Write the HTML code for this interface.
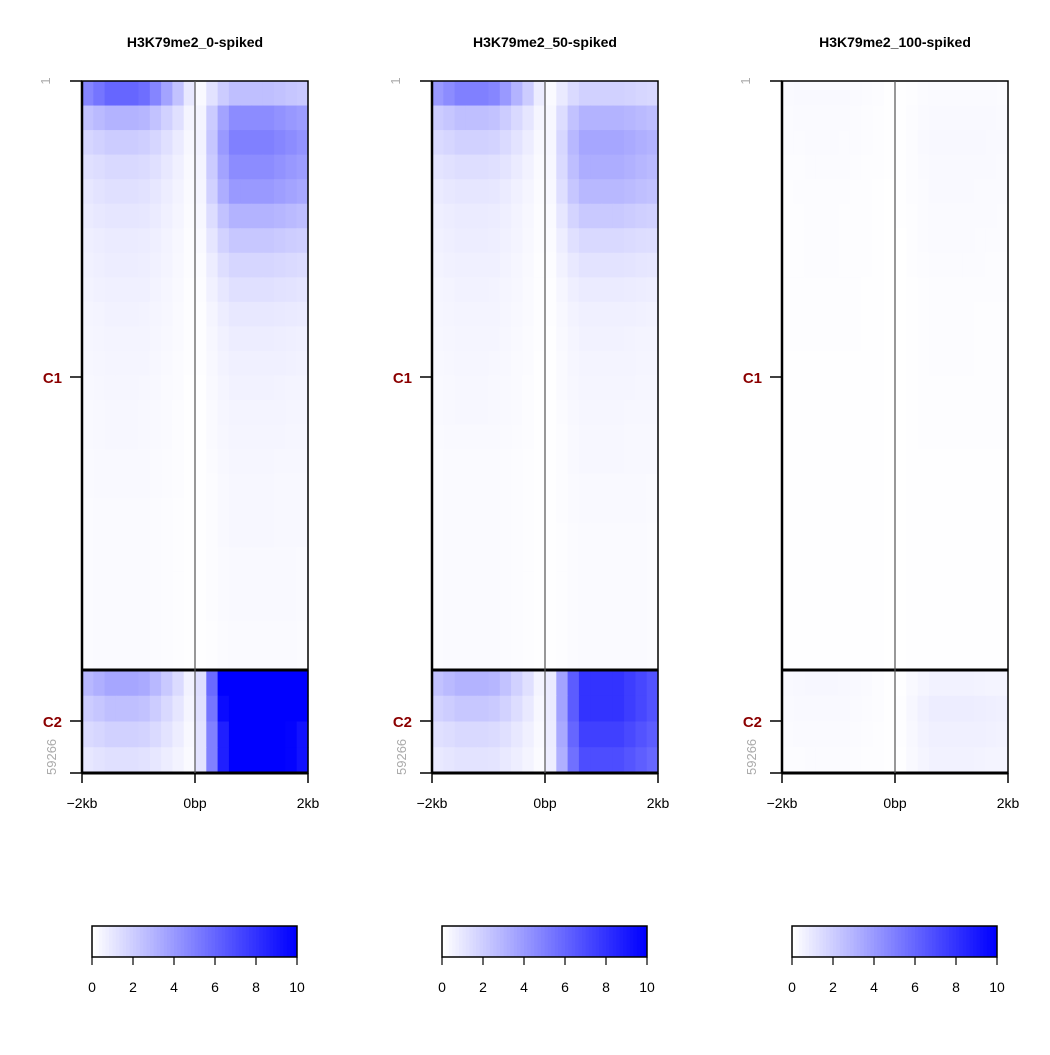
<!DOCTYPE html>
<html><head><meta charset="utf-8">
<style>
body{margin:0;background:#fff;width:1050px;height:1050px;overflow:hidden;font-family:"Liberation Sans",sans-serif;}
svg text{font-family:"Liberation Sans",sans-serif;}
</style></head>
<body>
<svg id="chart" width="1050" height="1050" xmlns="http://www.w3.org/2000/svg"></svg>
<script>
const panelTitles = ["H3K79me2_0-spiked","H3K79me2_50-spiked","H3K79me2_100-spiked"];
const xTickLabels = ["\u22122kb","0bp","2kb"];
const legendTicks = [0,2,4,6,8,10];
const clusterLabels = ["C1","C2"];
const rowLabels = ["1","59266"];
// per-panel row-block intensities (C1: 24 blocks, C2: 4 blocks)
const c1Up = [
 [6,3,2,1.5,1.2,1,0.8,0.7,0.6,0.5,0.45,0.4,0.35,0.3,0.3,0.25,0.25,0.2,0.2,0.2,0.2,0.2,0.2,0.2],
 [5,2.5,1.8,1.3,1,0.8,0.7,0.6,0.5,0.45,0.4,0.35,0.3,0.3,0.25,0.2,0.2,0.2,0.2,0.2,0.2,0.2,0.2,0.2],
 [0.25,0.2,0.18,0.15,0.12,0.1,0.1,0.1,0.08,0.08,0.08,0.05,0.05,0.05,0.05,0.05,0.05,0.05,0.05,0.05,0.05,0.05,0.05,0.05]
];
const c1Down = [
 [2.5,4.5,5,4.5,4,3,2.2,1.6,1.2,0.9,0.7,0.6,0.5,0.45,0.4,0.35,0.3,0.3,0.3,0.25,0.25,0.25,0.2,0.2],
 [1.8,3,3.5,3.2,2.8,2.1,1.5,1.1,0.8,0.6,0.5,0.45,0.4,0.35,0.3,0.3,0.25,0.25,0.2,0.2,0.2,0.2,0.2,0.2],
 [0.2,0.25,0.28,0.25,0.22,0.2,0.18,0.15,0.12,0.1,0.1,0.1,0.08,0.08,0.08,0.05,0.05,0.05,0.05,0.05,0.05,0.05,0.05,0.05]
];
const c2Up = [[3.5,2.5,1.8,1.2],[3,2.2,1.5,1.1],[0.3,0.25,0.2,0.15]];
const c2Down = [[13,12,11,11],[8,8,7.5,7],[0.5,0.7,0.6,0.5]];
// column profiles (10 bins each side)
const colUp = [0.8,0.9,1,1,1,0.95,0.8,0.6,0.4,0.15];
const colDown = [0.1,0.45,0.8,1,1,1,1,0.95,0.9,0.85];

const NS="http://www.w3.org/2000/svg";
const svgEl=document.getElementById('chart');
function mk(tag,attrs,parent){const e=document.createElementNS(NS,tag);for(const k in attrs)e.setAttribute(k,attrs[k]);(parent||svgEl).appendChild(e);return e;}
function colorFor(v){const t=Math.max(0,Math.min(1,v/10));const c=Math.round(255*(1-t));return `rgb(${c},${c},255)`;}

const panelX=[82,432,782], PW=226, topY=81, splitY=670, bottomY=773;
function xScale(p,bin){return panelX[p]+bin*PW/20;}
function yC1(i){return topY+i*(splitY-topY)/24;}
function yC2(i){return splitY+i*(bottomY-splitY)/4;}

for(let p=0;p<3;p++){
  const g=mk('g',{});
  
  
  const x0=panelX[p];
  for(let r=0;r<24;r++){
    for(let c=0;c<20;c++){
      const v = c<10 ? c1Up[p][r]*colUp[c] : c1Down[p][r]*colDown[c-10];
      const rc=mk('rect',{x:xScale(p,c),y:yC1(r),width:PW/20+0.6,height:(splitY-topY)/24+0.6,fill:colorFor(v)},g);
      
      
    }
  }
  for(let r=0;r<4;r++){
    for(let c=0;c<20;c++){
      const v = c<10 ? c2Up[p][r]*colUp[c] : c2Down[p][r]*colDown[c-10];
      const rc=mk('rect',{x:xScale(p,c),y:yC2(r),width:PW/20+0.6,height:(bottomY-splitY)/4+0.6,fill:colorFor(v)},g);
      
      
    }
  }
  mk('rect',{x:x0,y:topY,width:PW,height:bottomY-topY,fill:'none',stroke:'#000','stroke-width':1.5},g);
  mk('line',{x1:x0,x2:x0+PW,y1:splitY,y2:splitY,stroke:'#000','stroke-width':3},g);
  mk('line',{x1:x0,x2:x0+PW,y1:bottomY,y2:bottomY,stroke:'#000','stroke-width':3},g);
  mk('line',{x1:x0,x2:x0,y1:topY,y2:bottomY,stroke:'#000','stroke-width':2.5},g);
  mk('line',{x1:x0+PW/2,x2:x0+PW/2,y1:topY,y2:bottomY,stroke:'#555','stroke-width':1.2},g);
  const t=mk('text',{x:x0+PW/2,y:47,'text-anchor':'middle','font-size':14,'font-weight':'bold'},g);
  t.textContent=panelTitles[p];
  
  
  [topY,377,721,bottomY].forEach(yy=>mk('line',{x1:x0-12,x2:x0,y1:yy,y2:yy,stroke:'#000','stroke-width':1.5},g));
  const cy=[377,721];
  for(let k=0;k<2;k++){
    const l=mk('text',{x:x0-20,y:cy[k]+6,'text-anchor':'end','font-size':15,'font-weight':'bold',fill:'#8b0000'},g);
    l.textContent=clusterLabels[k];
    
    
  }
  const r1=mk('text',{x:0,y:0,'text-anchor':'middle','font-size':13,fill:'#aaa',transform:`translate(${x0-32},${topY}) rotate(-90)`},g);
  r1.textContent=rowLabels[0];
  
  
  const r2=mk('text',{x:0,y:0,'text-anchor':'start','font-size':13,fill:'#aaa',transform:`translate(${x0-26},${bottomY+2}) rotate(-90)`},g);
  r2.textContent=rowLabels[1];
  
  
  for(let k=0;k<3;k++){
    const xx=x0+k*PW/2;
    mk('line',{x1:xx,x2:xx,y1:bottomY,y2:bottomY+10,stroke:'#000','stroke-width':1.5},g);
    const xl=mk('text',{x:xx,y:808,'text-anchor':'middle','font-size':14},g);
    xl.textContent=xTickLabels[k];
    
    
  }
  const lg=mk('g',{},g);
  
  
  const lx=x0+10, lw=205;
  for(let i=0;i<60;i++){
    mk('rect',{x:lx+i*lw/60,y:926,width:lw/60+0.5,height:31,fill:colorFor(i*10/59)},lg);
  }
  mk('rect',{x:lx,y:926,width:lw,height:31,fill:'none',stroke:'#000','stroke-width':1.5},lg);
  for(let k=0;k<legendTicks.length;k++){
    const xx=lx+legendTicks[k]/10*lw;
    mk('line',{x1:xx,x2:xx,y1:957,y2:965,stroke:'#000','stroke-width':1.2},lg);
    const tl=mk('text',{x:xx,y:992,'text-anchor':'middle','font-size':14},lg);
    tl.textContent=legendTicks[k];
    
    
  }
}
</script>
</body></html>
